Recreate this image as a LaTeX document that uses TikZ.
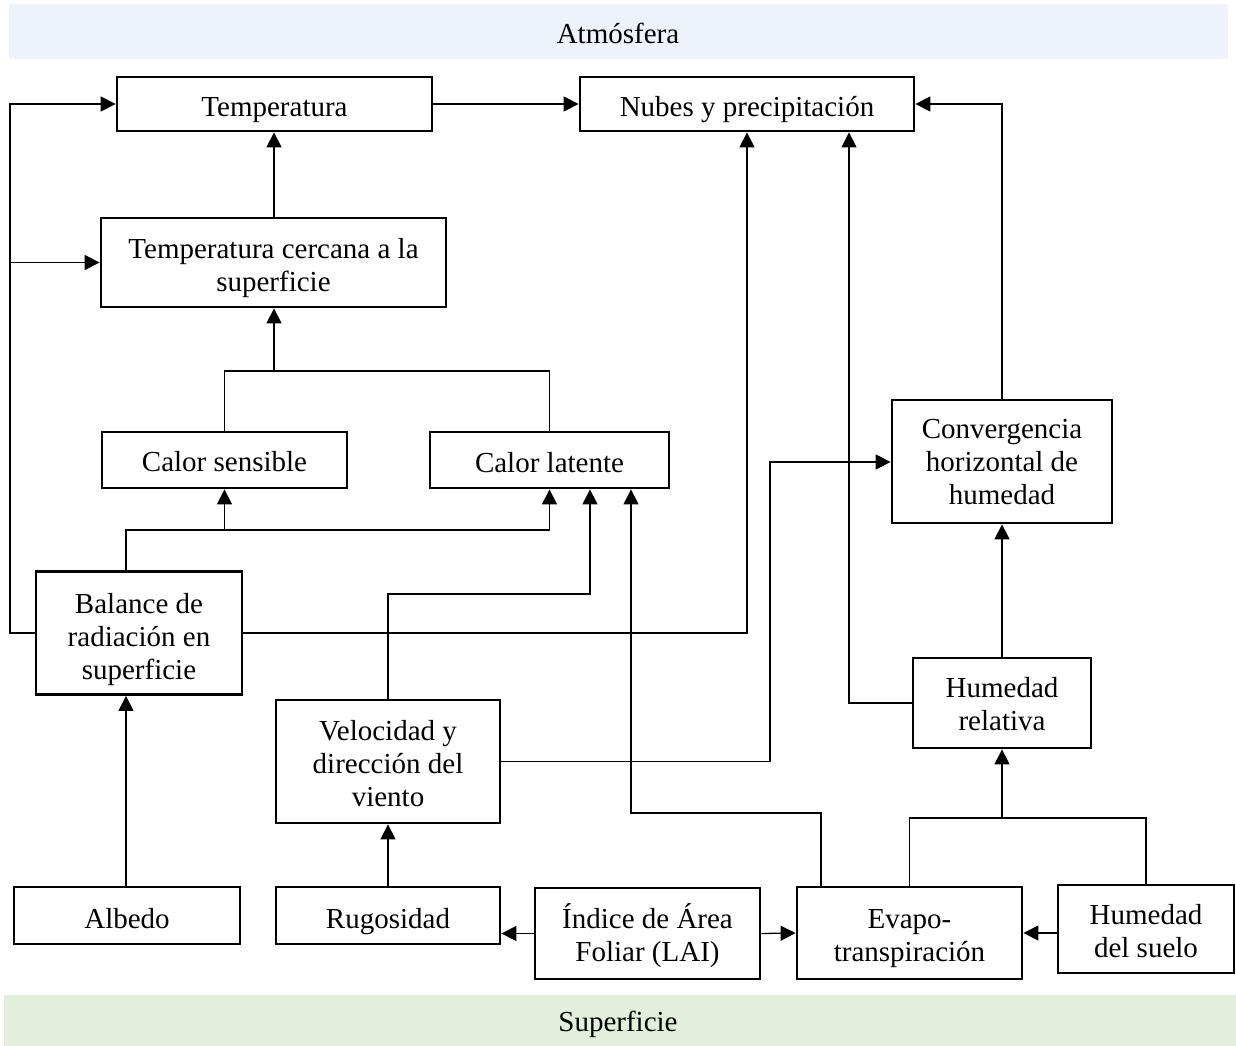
\documentclass[tikz,border=0pt]{standalone}
\usepackage{fontspec}
\setmainfont{Liberation Serif}
\usetikzlibrary{arrows.meta}
\definecolor{topband}{HTML}{EEF3FB}
\definecolor{botband}{HTML}{E2EFDA}
\newcommand\bt[2][6pt]{\raisebox{-#1}[\height][\depth]{\begin{tabular}{@{}c@{}}#2\end{tabular}}}
\tikzset{
  box/.style={draw, line width=2.8pt, inner sep=0pt, font=\fontsize{29}{33}\selectfont},
  conn/.style={line width=1.3pt},
  arr/.style={conn, -{Triangle[length=15pt,width=15pt]}},
  band/.style={inner sep=0pt, font=\fontsize{29}{33}\selectfont}
}
\begin{document}
\begin{tikzpicture}[x=1pt,y=-1pt]
\useasboundingbox (0,0) rectangle (1236,1046);
\fill[topband] (9,4) rectangle (1228,59);
\fill[botband] (4,995) rectangle (1236,1046);
\node[band] (atm) at (618,33) {Atmósfera};
\node[band] (sup) at (618,1024) {Superficie};

\node[box, minimum width=315, minimum height=54] (temp) at (274.5,104) {\bt{Temperatura}};
\node[box, minimum width=334, minimum height=54] (nubes) at (747,104) {\bt{Nubes y precipitación}};
\node[box, minimum width=345, minimum height=89] (tcs) at (273.5,262.5) {\bt{Temperatura cercana a la\\superficie}};
\node[box, minimum width=245, minimum height=56] (csens) at (224.5,460) {\bt[5pt]{Calor sensible}};
\node[box, minimum width=239, minimum height=56] (clat) at (549.5,460) {\bt{Calor latente}};
\node[box, minimum width=220, minimum height=123] (conv) at (1002,461.5) {\bt[3.5pt]{Convergencia\\horizontal de\\humedad}};
\node[box, minimum width=206, minimum height=123] (bal) at (139,633) {\bt[6.5pt]{Balance de\\radiación en\\superficie}};
\node[box, minimum width=178, minimum height=90] (hr) at (1002,703) {\bt[4pt]{Humedad\\relativa}};
\node[box, minimum width=224, minimum height=123] (vel) at (388,761.5) {\bt[5pt]{Velocidad y\\dirección del\\viento}};
\node[box, minimum width=226, minimum height=57] (alb) at (127,915.5) {\bt{Albedo}};
\node[box, minimum width=224, minimum height=57] (rug) at (388,915.5) {\bt{Rugosidad}};
\node[box, minimum width=225, minimum height=91] (lai) at (647.5,933.5) {\bt[4pt]{Índice de Área\\Foliar (LAI)}};
\node[box, minimum width=225, minimum height=92] (evap) at (909.5,933) {\bt[5pt]{Evapo-\\transpiración}};
\node[box, minimum width=176, minimum height=88] (hs) at (1146,929) {\bt[5pt]{Humedad\\del suelo}};

\coordinate (lx) at (10,633);
\coordinate (j1) at (274,371);
\coordinate (j2) at (126,530);
\coordinate (j3) at (590,594);
\coordinate (j5) at (821,813);
\coordinate (j5b) at (631,813);
\coordinate (j7) at (770,462);
\coordinate (j8) at (849,703);
\coordinate (j9) at (1146,818);

\draw[arr] (temp.east) -- (nubes.west);
\draw[arr] (tcs.north -| j1) -- (temp.south -| j1);
\draw[arr] (bal.west) -- (lx) |- (temp.west);
\draw[arr] (lx |- tcs.west) -- (tcs.west);
\draw[conn] (csens.north) |- (j1) -| (clat.north);
\draw[arr] (j1) -- (j1 |- tcs.south);
\draw[arr] (j2 |- bal.north) -- (j2) -| (clat.south);
\draw[arr] (j2 -| csens.south) -- (csens.south);
\draw[arr] (vel.north) |- (j3) -- (j3 |- clat.south);
\draw[arr] (j5 |- evap.north) -- (j5) -- (j5b) -- (j5b |- clat.south);
\draw[arr] (bal.east) -| (nubes.south);
\draw[arr] (vel.east) -| (j7) -- (j7 -| conv.west);
\draw[arr] (hr.west) -- (j8) -- (j8 |- nubes.south);
\draw[arr] (hr.north) -- (conv.south);
\draw[arr] (conv.north) |- (nubes.east);
\draw[conn] (evap.north) |- (j9) -- (hs.north);
\draw[arr] (hr.south |- j9) -- (hr.south);
\draw[arr] (rug.north) -- (vel.south);
\draw[arr] (alb.north -| j2) -- (bal.south -| j2);
\draw[arr] (lai.west) -- (lai.west -| rug.east);
\draw[arr] (lai.east) -- (evap.west);
\draw[arr] (hs.west |- evap.east) -- (evap.east);
\end{tikzpicture}
\end{document}
